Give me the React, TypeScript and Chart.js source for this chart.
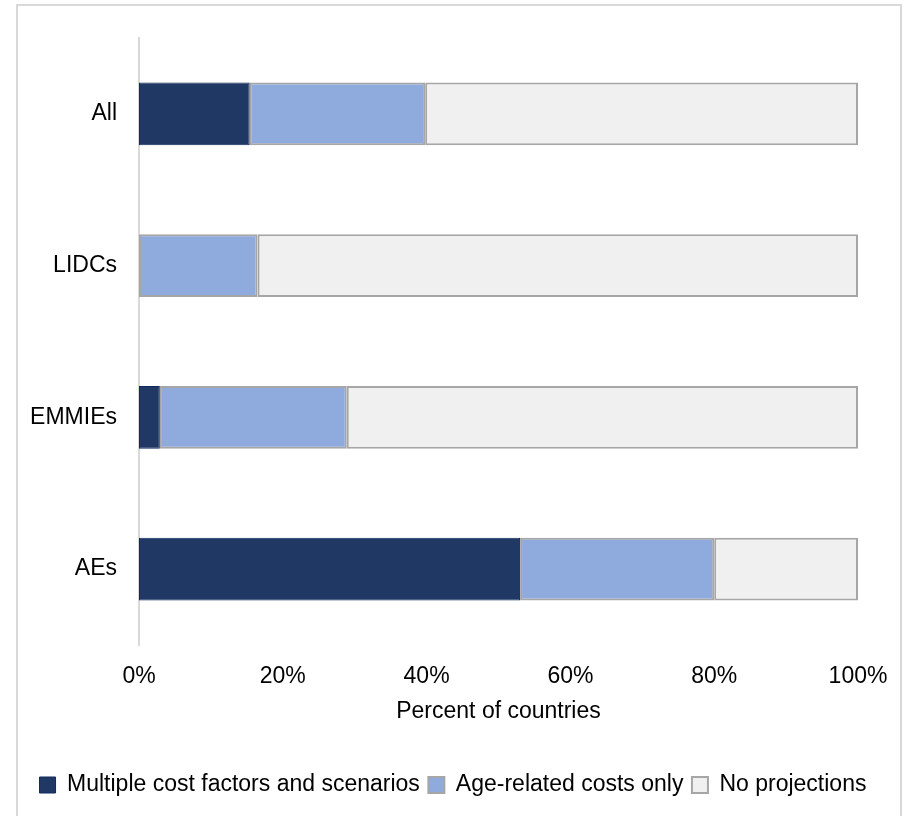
import React, { useEffect, useRef } from "react";
import { Chart, registerables } from "chart.js";

Chart.register(...registerables);

const categories = ["All", "LIDCs", "EMMIEs", "AEs"];
const multipleCostFactors = [15.4, 0, 2.9, 53.0];
const ageRelatedOnly = [24.4, 16.5, 26.0, 27.0];
const noProjections = [60.2, 83.5, 71.1, 20.0];
const seriesNames = ["Multiple cost factors and scenarios", "Age-related costs only", "No projections"];
const xTicks = [0, 20, 40, 60, 80, 100];
const xTitle = "Percent of countries";

const FONT = "'Liberation Sans', Arial, sans-serif";

export default function App() {
  const ref = useRef<HTMLCanvasElement>(null);

  useEffect(() => {
    if (!ref.current) return;
    const chart = new Chart(ref.current, {
      type: "bar",
      data: {
        labels: categories,
        datasets: [
          {
            label: seriesNames[0],
            data: multipleCostFactors,
            backgroundColor: "#203864",
            borderColor: "#0f2a5e",
            borderWidth: 1,
            borderSkipped: false,
            categoryPercentage: 1,
            barPercentage: 0.415,
          },
          {
            label: seriesNames[1],
            data: ageRelatedOnly,
            backgroundColor: "#8FAADC",
            borderColor: "#A6A6A6",
            borderWidth: 2,
            borderSkipped: false,
            categoryPercentage: 1,
            barPercentage: 0.415,
          },
          {
            label: seriesNames[2],
            data: noProjections,
            backgroundColor: "#F0F0F0",
            borderColor: "#A6A6A6",
            borderWidth: 2,
            borderSkipped: false,
            categoryPercentage: 1,
            barPercentage: 0.415,
          },
        ],
      },
      options: {
        indexAxis: "y",
        responsive: false,
        animation: false,
        devicePixelRatio: 1,
        layout: { padding: { top: 38, left: 0, right: 0, bottom: 9.5 } },
        plugins: {
          tooltip: { enabled: false },
          legend: {
            position: "bottom",
            labels: {
              boxWidth: 16,
              boxHeight: 16,
              padding: 8.5,
              color: "#000",
              font: { family: FONT, size: 23 },
            },
          },
        },
        scales: {
          y: {
            type: "category",
            position: "left",
            stacked: true,
            grid: { display: false, drawTicks: false },
            border: { display: true, color: "#D9D9D9", width: 2 },
            ticks: { padding: 22, color: "#000", font: { family: FONT, size: 23 } },
            afterFit: (s: any) => {
              s.width = 139;
            },
          },
          y2: {
            type: "category",
            position: "right",
            labels: categories,
            grid: { display: false, drawTicks: false },
            border: { display: false },
            ticks: { display: false },
            afterFit: (s: any) => {
              s.width = 48;
            },
          },
          x: {
            type: "linear",
            stacked: true,
            min: 0,
            max: 100,
            grid: { display: false, drawTicks: false },
            border: { display: false },
            afterBuildTicks: (s: any) => {
              s.ticks = xTicks.map((v) => ({ value: v }));
            },
            ticks: {
              padding: 18,
              color: "#000",
              font: { family: FONT, size: 23 },
              callback: (v: any) => `${v}%`,
            },
            title: {
              display: true,
              text: xTitle,
              color: "#000",
              font: { family: FONT, size: 23 },
              padding: { top: 0, bottom: 40 },
            },
            afterFit: (s: any) => {
              s.height = 120;
            },
          },
        },
      },
    });
    return () => chart.destroy();
  }, []);

  return (
    <div style={{ position: "absolute", left: 0, top: 0, width: 906, height: 816, overflow: "hidden", background: "#fff" }}>
      <div
        style={{
          position: "absolute",
          left: 16,
          top: 4,
          width: 886,
          height: 830,
          boxSizing: "border-box",
          border: "2px solid #D9D9D9",
        }}
      />
      <canvas ref={ref} width={906} height={816} style={{ position: "absolute", left: 0, top: 0 }} />
    </div>
  );
}
